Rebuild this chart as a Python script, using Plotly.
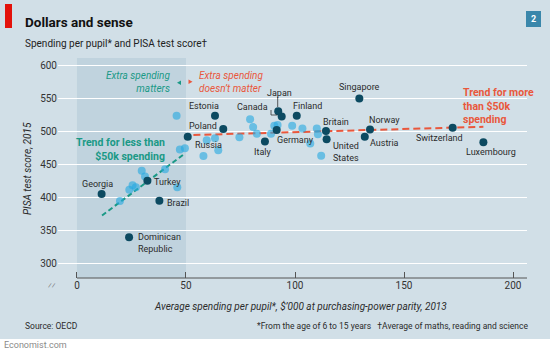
import plotly.graph_objects as go

# ---------------- data ----------------
named_countries = ["Georgia", "Turkey", "Brazil", "Dominican<br>Republic", "Russia", "Poland",
                   "Estonia", "Canada", "Japan", "Finland", "Italy", "Germany", "Britain",
                   "United<br>States", "Singapore", "Norway", "Austria", "Switzerland", "Luxembourg"]
named_spend = [11.3, 32.3, 37.8, 23.9, 50.8, 67.1, 63.3, 93.9, 92.3, 100.8, 86.2, 91.6, 114.2,
               114.5, 129.5, 134.4, 132.0, 172.3, 186.4]
named_score = [405.5, 425.5, 395.5, 340, 492.5, 504, 524, 523, 531, 524, 485, 502.5, 501,
               488.5, 550.5, 503.5, 492.5, 506, 484]

other_spend = [19.7, 24.0, 25.5, 27.0, 29.7, 31.2, 40.4, 46.0, 45.7, 47.2, 49.5, 58.0, 59.5,
               63.3, 64.8, 74.5, 79.4, 80.8, 82.5, 89.0, 90.5, 92.0, 98.7, 103.4, 107.0,
               110.0, 110.5, 112.0]
other_score = [395, 412, 419, 416, 441, 432, 443, 416, 524, 473, 475, 463, 487,
               490, 472, 491.5, 519, 507, 497, 497, 509, 510, 509, 505, 482,
               505, 496, 463.5]

trend_low_x = [11.5, 49.5]
trend_low_y = [373, 467]
trend_high_x = [53.4, 186.4]
trend_high_y = [495, 507.5]

x_ticks = [0, 50, 100, 150, 200]
y_ticks = [300, 350, 400, 450, 500, 550, 600]

# label offsets in pixels (xanchor, xshift, yshift)
label_pos = {
    "Georgia": ("center", -4, 10),
    "Turkey": ("left", 5, -1),
    "Brazil": ("left", 6, -2.5),
    "Dominican<br>Republic": ("left", 7, -5.5),
    "Russia": ("left", 5, -8),
    "Poland": ("right", -4, 3),
    "Estonia": ("center", -11, 9.5),
    "Canada": ("right", -11.5, 10),
    "Japan": ("center", 1.7, 18.5),
    "Finland": ("center", 10.6, 9.5),
    "Italy": ("center", -2.3, -10.5),
    "Germany": ("left", -2, -9.5),
    "Britain": ("left", -4.5, 9),
    "United<br>States": ("left", 4.5, -12.5),
    "Singapore": ("center", 0, 11),
    "Norway": ("left", -3, 9),
    "Austria": ("left", 3.5, -6.5),
    "Switzerland": ("center", -13, -10),
    "Luxembourg": ("center", 8, -10),
}

# ---------------- styling ----------------
W, H = 550, 351
L, R, T, B = 58, 23, 58, 73
BG = "#d1dfe7"
SHADE = "#c0d3de"
DARK = "#0c4a61"
LIGHT = "rgba(40,170,225,0.62)"
TEAL = "#1a9986"
RED = "#e9573c"
FONT = "Roboto"
TXT = "#2b2b2b"

pw, ph = W - L - R, H - T - B


def px(xp):
    return (xp - L) / pw


def py(yp):
    return (H - B - yp) / ph


fig = go.Figure()

fig.add_trace(go.Scatter(x=trend_low_x, y=trend_low_y, mode="lines",
                         line=dict(color=TEAL, width=2, dash="5px,3px"), hoverinfo="skip"))
fig.add_trace(go.Scatter(x=trend_high_x, y=trend_high_y, mode="lines",
                         line=dict(color=RED, width=2, dash="7px,4px"), hoverinfo="skip"))
fig.add_trace(go.Scatter(x=other_spend, y=other_score, mode="markers",
                         marker=dict(size=8, color=LIGHT, line=dict(width=0))))
fig.add_trace(go.Scatter(x=named_spend, y=named_score, mode="markers",
                         marker=dict(size=8, color=DARK, line=dict(width=0)),
                         text=named_countries))

ann = []
for name, xs, ys in zip(named_countries, named_spend, named_score):
    xa, dx, dy = label_pos[name]
    ann.append(dict(x=xs, y=ys, xref="x", yref="y", text=name, showarrow=False,
                    xanchor=xa, yanchor="middle", xshift=dx, yshift=dy, align="left",
                    font=dict(family=FONT, size=9, color=TXT)))


def txt(x, y, text, size=9, color=TXT, xa="left", ya="middle", **kw):
    ann.append(dict(x=px(x), y=py(y), xref="paper", yref="paper", text=text,
                    showarrow=False, xanchor=xa, yanchor=ya,
                    font=dict(family=FONT, size=size, color=color), **kw))


txt(23, 22, "<b>Dollars and sense</b>", size=13.5, color="#111")
txt(23, 43, "Spending per pupil* and PISA test score†", size=10, color="#222")
txt(533.5, 19, "<b>2</b>", size=9, color="white", xa="center")
txt(172, 82, "<i>Extra spending<br>matters</i>", size=10, color=TEAL, xa="right", align="right")
txt(197, 82, "<i>Extra spending<br>doesn’t matter</i>", size=10, color=RED, xa="left", align="left")
txt(167, 149, "<b>Trend for less than<br>$50k spending</b>", size=10.5, color=TEAL, xa="right", align="right")
txt(461, 105.5, "<b>Trend for more<br>than $50k<br>spending</b>", size=10.5, color=RED, xa="left", align="left")
txt(27, 169, "<i>PISA test score, 2015</i>", size=10, xa="center", textangle=-90)
txt(300, 306, "<i>Average spending per pupil*, $’000 at purchasing-power parity, 2013</i>", size=10, xa="center")
txt(23, 326, "Source: OECD", size=8.5)
txt(530, 326, "*From the age of 6 to 15 years   †Average of maths, reading and science", size=8.5, xa="right")
txt(2, 345, "Economist.com", size=9, color="#8a8a8a")
txt(52, 285, "⁄⁄", size=8, color="#666", xa="center")

shapes = [
    # shaded region for < $50k
    dict(type="rect", xref="x", yref="paper", x0=0, x1=50, y0=0, y1=1,
         fillcolor=SHADE, line=dict(width=0), layer="below"),
    # bottom white strip
    dict(type="rect", xref="paper", yref="paper", x0=px(-5), x1=px(W + 5), y0=py(339), y1=py(H + 5),
         fillcolor="white", line=dict(width=0), layer="below"),
    # red tag
    dict(type="rect", xref="paper", yref="paper", x0=px(5), x1=px(12), y0=py(28), y1=py(4),
         fillcolor="#e3120b", line=dict(width=0)),
    # number box
    dict(type="rect", xref="paper", yref="paper", x0=px(526), x1=px(541), y0=py(27), y1=py(11),
         fillcolor="#3a87ab", line=dict(width=0)),
    # x axis line
    dict(type="line", xref="x", yref="paper", x0=0, x1=1, y0=0, y1=0,
         line=dict(color="#555", width=1)),
    # leader lines
    dict(type="line", xref="paper", yref="paper", x0=px(277.7), x1=px(277.7), y0=py(97), y1=py(107),
         line=dict(color="#333", width=0.8)),
    dict(type="path", xref="paper", yref="paper",
         path=f"M {px(271)} {py(110)} L {px(271)} {py(115)} L {px(277.5)} {py(115)}",
         line=dict(color="#333", width=0.8)),
    # small triangles
    dict(type="path", xref="paper", yref="paper",
         path=f"M {px(177)} {py(82.7)} L {px(181)} {py(80.4)} L {px(181)} {py(85)} Z",
         fillcolor=TEAL, line=dict(width=0)),
    dict(type="path", xref="paper", yref="paper",
         path=f"M {px(192.5)} {py(81.7)} L {px(188.5)} {py(79.4)} L {px(188.5)} {py(84)} Z",
         fillcolor=RED, line=dict(width=0)),
]
# fix x axis line to span from 0 to right edge
shapes[4] = dict(type="line", xref="paper", yref="paper", x0=px(77), x1=1, y0=0, y1=0,
                 line=dict(color="#555", width=1))

fig.update_layout(
    width=W, height=H,
    margin=dict(l=L, r=R, t=T, b=B, pad=0),
    paper_bgcolor=BG, plot_bgcolor=BG,
    showlegend=False,
    font=dict(family=FONT, size=10, color=TXT),
    xaxis=dict(range=[-8.7, 206.4], tickvals=x_ticks, showgrid=False, zeroline=False,
               showline=False, ticks="inside", ticklen=6, tickcolor="#555", tickwidth=1,
               tickfont=dict(family=FONT, size=10, color="#333")),
    yaxis=dict(range=[278.3, 611.7], tickvals=y_ticks, showgrid=True, gridcolor="white",
               gridwidth=1.4, zeroline=False, showline=False, ticks="",
               tickfont=dict(family=FONT, size=10, color="#333")),
    annotations=ann,
    shapes=shapes,
)

fig.write_html("out.html")
